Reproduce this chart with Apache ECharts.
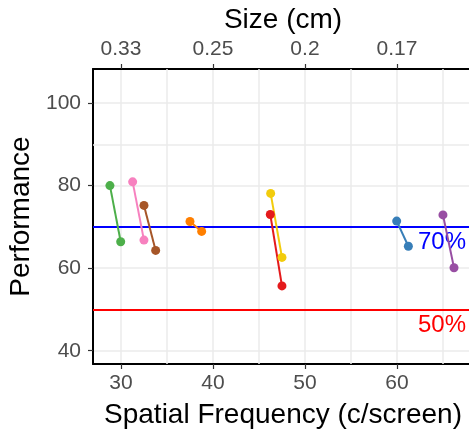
<!DOCTYPE html>
<html>
<head>
<meta charset="utf-8">
<script src="https://cdn.jsdelivr.net/npm/echarts@6/dist/echarts.min.js"></script>
<style>
  html, body { margin: 0; padding: 0; background: #fff; }
  #main { width: 469px; height: 434px; }
</style>
</head>
<body>
<div id="main"></div>
<script>
// tick positions + labels
var xTicks = [30, 40, 50, 60];
var sizeLabels = ['0.33', '0.25', '0.2', '0.17'];
var yTicks = [40, 60, 80, 100];
var xMinor = [35, 45, 55, 65];
var yMinor = [50, 70, 90];

// each pair: [freq, perf] start -> end
var greenPts = [[28.8, 80.0], [29.97, 66.4]];
var pinkPts = [[31.27, 80.9], [32.5, 66.8]];
var brownPts = [[32.5, 75.2], [33.77, 64.3]];
var orangePts = [[37.5, 71.3], [38.77, 68.9]];
var yellowPts = [[46.27, 78.1], [47.5, 62.6]];
var redPts = [[46.23, 73.0], [47.5, 55.7]];
var bluePts = [[59.97, 71.4], [61.24, 65.3]];
var purplePts = [[65.0, 72.9], [66.2, 60.1]];

var refLevels = [70, 50];
var refLabels = ['70%', '50%'];
var refColors = ['#0000FF', '#FF0000'];

var pairs = [
  [greenPts, '#4DAF4A'],
  [pinkPts, '#F781BF'],
  [brownPts, '#A65628'],
  [orangePts, '#FF7F00'],
  [yellowPts, '#F2CC0C'],
  [redPts, '#E41A1C'],
  [bluePts, '#377EB8'],
  [purplePts, '#984EA3']
];

var chart = echarts.init(document.getElementById('main'), null, { renderer: 'canvas' });

var font = 'Liberation Sans, Arial, sans-serif';
// panel runs past the right edge of the picture (no right border in the original)
var xMin = 26.96, xMax = 68.70;
var yMin = 36.78, yMax = 108.24;
var gridGray = '#EBEBEB';

// minor grid lines as markLines (drawn under everything)
var minorLines = xMinor.map(function (v) { return { xAxis: v }; })
  .concat(yMinor.map(function (v) { return { yAxis: v }; }));

var series = [{
  type: 'line',
  data: [],
  z: 1,
  markLine: {
    silent: true,
    symbol: 'none',
    animation: false,
    label: { show: false },
    lineStyle: { color: gridGray, width: 1.5, type: 'solid' },
    data: minorLines
  }
}];

pairs.forEach(function (p) {
  series.push({
    type: 'line',
    data: p[0],
    symbol: 'circle',
    symbolSize: 9,
    showSymbol: true,
    lineStyle: { color: p[1], width: 2 },
    itemStyle: { color: p[1] },
    z: 5
  });
});

series.push({
  type: 'line',
  data: [],
  markLine: {
    silent: true,
    symbol: 'none',
    animation: false,
    data: refLevels.map(function (v, i) {
      return {
        yAxis: v,
        lineStyle: { color: refColors[i], width: 1.8, type: 'solid' },
        label: {
          show: true,
          formatter: refLabels[i],
          position: 'insideEndBottom',
          distance: [11, 4],
          color: refColors[i],
          fontSize: 24,
          fontFamily: font
        }
      };
    })
  },
  z: 4
});

var option = {
  animation: false,
  backgroundColor: '#fff',
  grid: { left: 93, top: 69, right: -8, bottom: 70, outerBoundsMode: 'none', containLabel: false },
  xAxis: [{
    type: 'value',
    position: 'bottom',
    min: xMin, max: xMax,
    name: 'Spatial Frequency (c/screen)',
    nameLocation: 'middle',
    nameGap: 51,
    nameTextStyle: { fontSize: 28, color: '#000', fontFamily: font, verticalAlign: 'middle', padding: [0, 4, 0, 0] },
    axisLine: { show: true, onZero: false, lineStyle: { color: '#000', width: 2 } },
    axisTick: { show: true, length: 5, customValues: xTicks, lineStyle: { color: '#333', width: 1.2 } },
    axisLabel: { customValues: xTicks, fontSize: 21, color: '#4D4D4D', fontFamily: font, margin: 9 },
    splitLine: { show: true, lineStyle: { color: gridGray, width: 1.5 } }
  }, {
    type: 'value',
    position: 'top',
    min: xMin, max: xMax,
    name: 'Size (cm)',
    nameLocation: 'middle',
    nameGap: 47,
    nameTextStyle: { fontSize: 28, color: '#000', fontFamily: font, verticalAlign: 'middle', padding: [0, 4, 0, 0] },
    axisLine: { show: true, onZero: false, lineStyle: { color: '#000', width: 2 } },
    axisTick: { show: true, length: 5, customValues: xTicks, lineStyle: { color: '#333', width: 1.2 } },
    axisLabel: {
      customValues: xTicks, fontSize: 21, color: '#4D4D4D', fontFamily: font, margin: 9,
      formatter: function (v) {
        var i = xTicks.indexOf(v);
        return i >= 0 ? sizeLabels[i] : '';
      }
    },
    splitLine: { show: false }
  }],
  yAxis: [{
    type: 'value',
    position: 'left',
    min: yMin, max: yMax,
    name: 'Performance',
    nameLocation: 'middle',
    nameGap: 70,
    nameRotate: 90,
    nameTextStyle: { fontSize: 28, color: '#000', fontFamily: font, verticalAlign: 'middle' },
    axisLine: { show: true, onZero: false, lineStyle: { color: '#000', width: 2 } },
    axisTick: { show: true, length: 5, customValues: yTicks, lineStyle: { color: '#333', width: 1.2 } },
    axisLabel: { customValues: yTicks, fontSize: 21, color: '#4D4D4D', fontFamily: font, margin: 12 },
    splitLine: { show: true, lineStyle: { color: gridGray, width: 1.5 } }
  }],
  series: series
};

chart.setOption(option);
</script>
</body>
</html>
